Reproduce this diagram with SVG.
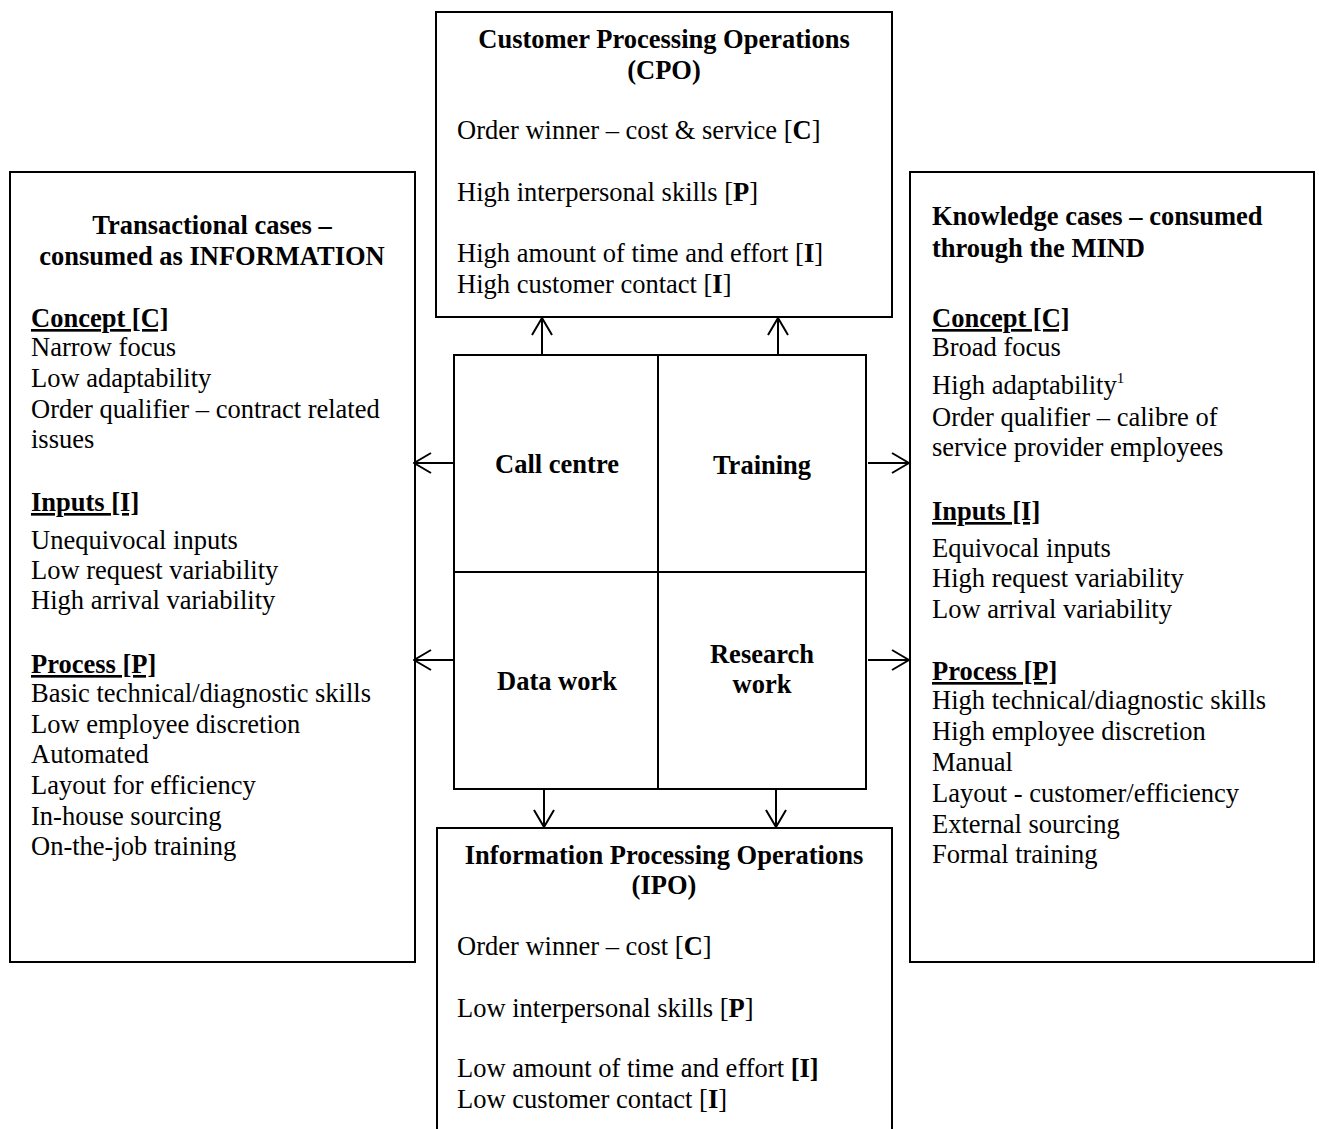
<svg xmlns="http://www.w3.org/2000/svg" width="1319" height="1129" viewBox="0 0 1319 1129">
<style>
text{font-family:"Liberation Serif","Times New Roman",Times,serif;font-size:26.5px;fill:#000}
.b{font-weight:bold}
.c{text-anchor:middle}
.u{font-weight:bold;text-decoration:underline;text-decoration-skip-ink:none}
.box{fill:#fff;stroke:#000;stroke-width:2}
.ln{stroke:#000;stroke-width:2;fill:none}
</style>
<defs>
<marker id="ah" viewBox="0 0 20 22" refX="19" refY="11" markerWidth="20" markerHeight="22" markerUnits="userSpaceOnUse" orient="auto">
<path d="M2,1 L19,11 L2,21" fill="none" stroke="#000" stroke-width="2"/>
</marker>
</defs>
<rect width="1319" height="1129" fill="#fff"/>

<g id="cpo">
<rect class="box" x="436" y="12" width="456" height="305"/>
<text class="b c" x="664" y="48">Customer Processing Operations</text>
<text class="b c" x="664" y="79">(CPO)</text>
<text x="457" y="139">Order winner – cost &amp; service [<tspan class="b">C</tspan>]</text>
<text x="457" y="201">High interpersonal skills [<tspan class="b">P</tspan>]</text>
<text x="457" y="262">High amount of time and effort [<tspan class="b">I</tspan>]</text>
<text x="457" y="293">High customer contact [<tspan class="b">I</tspan>]</text>
</g>

<g id="transactional">
<rect class="box" x="10" y="172" width="405" height="790"/>
<text class="b c" x="212" y="234">Transactional cases –</text>
<text class="b c" x="212" y="265">consumed as INFORMATION</text>
<text class="u" x="31" y="327">Concept [C]</text>
<text x="31" y="356">Narrow focus</text>
<text x="31" y="387">Low adaptability</text>
<text x="31" y="418">Order qualifier – contract related</text>
<text x="31" y="448">issues</text>
<text class="u" x="31" y="511">Inputs [I]</text>
<text x="31" y="549">Unequivocal inputs</text>
<text x="31" y="579">Low request variability</text>
<text x="31" y="609">High arrival variability</text>
<text class="u" x="31" y="673">Process [P]</text>
<text x="31" y="702">Basic technical/diagnostic skills</text>
<text x="31" y="733">Low employee discretion</text>
<text x="31" y="763">Automated</text>
<text x="31" y="794">Layout for efficiency</text>
<text x="31" y="825">In-house sourcing</text>
<text x="31" y="855">On-the-job training</text>
</g>

<g id="knowledge">
<rect class="box" x="910" y="172" width="404" height="790"/>
<text class="b" x="932" y="225">Knowledge cases – consumed</text>
<text class="b" x="932" y="257">through the MIND</text>
<text class="u" x="932" y="327">Concept [C]</text>
<text x="932" y="356">Broad focus</text>
<text x="932" y="394">High adaptability<tspan font-size="15" dy="-11">1</tspan></text>
<text x="932" y="426">Order qualifier – calibre of</text>
<text x="932" y="456">service provider employees</text>
<text class="u" x="932" y="520">Inputs [I]</text>
<text x="932" y="557">Equivocal inputs</text>
<text x="932" y="587">High request variability</text>
<text x="932" y="618">Low arrival variability</text>
<text class="u" x="932" y="680">Process [P]</text>
<text x="932" y="709">High technical/diagnostic skills</text>
<text x="932" y="740">High employee discretion</text>
<text x="932" y="771">Manual</text>
<text x="932" y="802">Layout - customer/efficiency</text>
<text x="932" y="833">External sourcing</text>
<text x="932" y="863">Formal training</text>
</g>

<g id="ipo">
<rect class="box" x="437" y="828" width="455" height="320"/>
<text class="b c" x="664" y="864">Information Processing Operations</text>
<text class="b c" x="664" y="894">(IPO)</text>
<text x="457" y="955">Order winner – cost [<tspan class="b">C</tspan>]</text>
<text x="457" y="1017">Low interpersonal skills [<tspan class="b">P</tspan>]</text>
<text x="457" y="1077">Low amount of time and effort <tspan class="b">[I]</tspan></text>
<text x="457" y="1108">Low customer contact [<tspan class="b">I</tspan>]</text>
</g>

<g id="grid">
<rect class="box" x="454" y="355" width="412" height="434"/>
<line class="ln" x1="658" y1="355" x2="658" y2="789"/>
<line class="ln" x1="454" y1="572" x2="866" y2="572"/>
</g>
<g id="call-centre"><text class="b c" x="557" y="473">Call centre</text></g>
<g id="training"><text class="b c" x="762" y="474">Training</text></g>
<g id="data-work"><text class="b c" x="557" y="690">Data work</text></g>
<g id="research-work"><text class="b c" x="762" y="663">Research</text><text class="b c" x="762" y="693">work</text></g>

<g id="connectors">
<line class="ln" x1="542" y1="355" x2="542" y2="318" marker-end="url(#ah)"/>
<line class="ln" x1="778" y1="355" x2="778" y2="318" marker-end="url(#ah)"/>
<line class="ln" x1="454" y1="463" x2="414" y2="463" marker-end="url(#ah)"/>
<line class="ln" x1="454" y1="660" x2="414" y2="660" marker-end="url(#ah)"/>
<line class="ln" x1="868" y1="463" x2="909" y2="463" marker-end="url(#ah)"/>
<line class="ln" x1="868" y1="660" x2="909" y2="660" marker-end="url(#ah)"/>
<line class="ln" x1="544" y1="789" x2="544" y2="827" marker-end="url(#ah)"/>
<line class="ln" x1="776" y1="789" x2="776" y2="827" marker-end="url(#ah)"/>
</g>
</svg>
